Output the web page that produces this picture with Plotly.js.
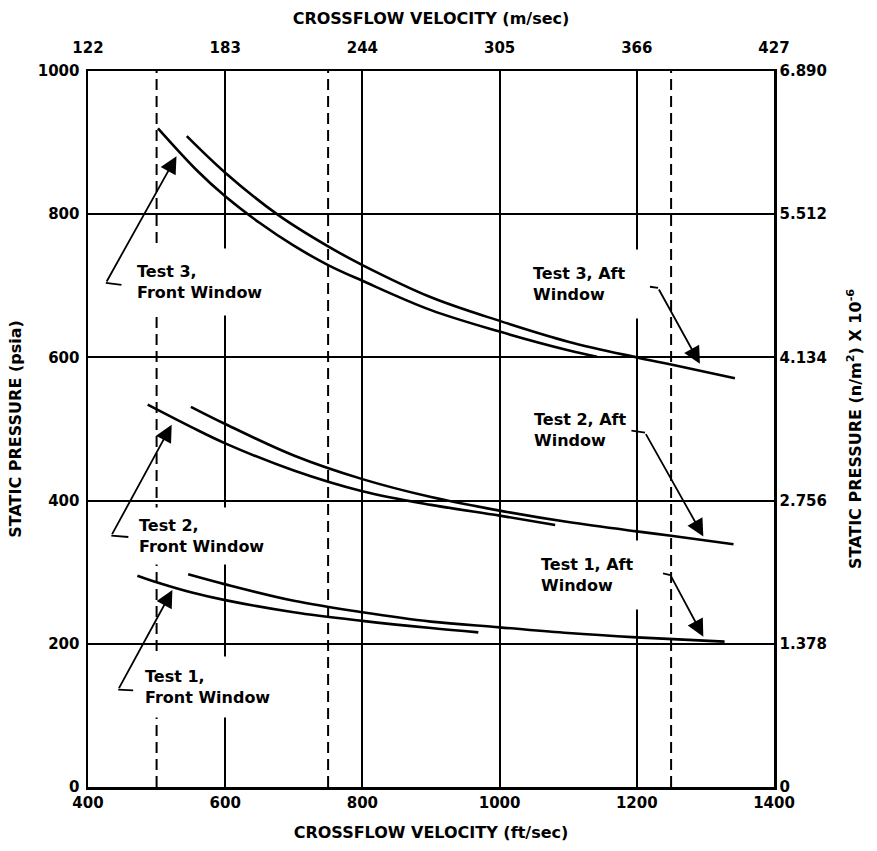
<!DOCTYPE html>
<html><head><meta charset="utf-8">
<script src="https://cdn.plot.ly/plotly-3.0.1.min.js"></script>
<style>body{margin:0;background:#fff}</style>
</head><body><div id="chart" style="width:877px;height:851px"></div>
<script>
// ---- data ----
const t3FrontX = [502, 560, 600, 650, 700, 750, 800, 900, 1000, 1100, 1142];
const t3FrontY = [920, 860, 825, 788, 756, 729, 707, 666, 636, 610, 601];
const t3AftX   = [544, 600, 677, 750, 800, 900, 1000, 1100, 1200, 1250, 1343];
const t3AftY   = [909, 858, 799, 755, 729, 684, 651, 622, 600, 590, 571];
const t2FrontX = [487, 550, 600, 700, 800, 900, 1000, 1081];
const t2FrontY = [534, 503, 480, 442, 413, 394, 379, 366];
const t2AftX   = [550, 600, 700, 800, 900, 1000, 1100, 1200, 1250, 1341];
const t2AftY   = [531, 507, 463, 430, 405, 386, 370, 357, 351, 339];
const t1FrontX = [472, 500, 550, 600, 700, 800, 900, 969];
const t1FrontY = [295, 286, 272, 261, 244, 232, 222, 216];
const t1AftX   = [546, 600, 700, 800, 900, 1000, 1100, 1200, 1328];
const t1AftY   = [297, 283, 260, 244, 231, 223, 215, 209, 203];

const ftTicks   = [400, 600, 800, 1000, 1200, 1400];
const ftLabels  = ['400', '600', '800', '1000', '1200', '1400'];
const msLabels  = ['122', '183', '244', '305', '366', '427'];
const psiaTicks = [0, 200, 400, 600, 800, 1000];
const psiaLabels= ['0', '200', '400', '600', '800', '1000'];
const paLabels  = ['0', '1.378', '2.756', '4.134', '5.512', '6.890'];
const refLinesX = [500, 750, 1250];

const labelText = ['Test 3,<br>Front Window', 'Test 2,<br>Front Window', 'Test 1,<br>Front Window',
                   'Test 3, Aft<br>Window', 'Test 2, Aft<br>Window', 'Test 1, Aft<br>Window'];
const labelX = [562, 565, 574, 1116, 1118, 1128];
const labelY = [705, 351, 140, 703, 499, 296];
const labelPad = [13, 8, 10, 14, 1, 14];
// arrows: head (x,y), tail (x,y), hook end (x,y)
const headX = [529, 522, 523, 1292, 1297, 1297];
const headY = [881, 506, 275, 591, 350, 210];
const tailX = [426, 434, 444, 1231, 1212, 1249];
const tailY = [704, 351, 136, 697, 495, 296];
const hookX = [451, 461, 468, 1217, 1190, 1236];
const hookY = [701, 349, 135, 699, 498, 299];

const FONT = 'DejaVu Sans, Arial, sans-serif';
const lineStyle = {color: 'black', width: 2.6, shape: 'spline', smoothing: 1};

const series = [
  [t3FrontX, t3FrontY], [t3AftX, t3AftY],
  [t2FrontX, t2FrontY], [t2AftX, t2AftY],
  [t1FrontX, t1FrontY], [t1AftX, t1AftY]
];
const traces = series.map(s => ({
  x: s[0], y: s[1], type: 'scatter', mode: 'lines', line: lineStyle,
  showlegend: false, hoverinfo: 'skip'
}));
traces.push({x: [], y: [], xaxis: 'x2', yaxis: 'y2', type: 'scatter', mode: 'lines', showlegend: false});

const tickFont = {family: FONT, size: 15, color: 'black', weight: 'bold'};
const titleFont = {family: FONT, size: 16, color: 'black', weight: 'bold'};

const annotations = [];
for (let i = 0; i < labelText.length; i++) {
  annotations.push({
    text: labelText[i], x: labelX[i], y: labelY[i], xref: 'x', yref: 'y',
    xanchor: 'center', yanchor: 'middle', align: 'left', showarrow: false,
    bgcolor: 'white', borderpad: labelPad[i],
    font: {family: FONT, size: 16, color: 'black', weight: 'bold'}
  });
}
for (let i = 0; i < headX.length; i++) {
  annotations.push({
    text: '', x: headX[i], y: headY[i], ax: tailX[i], ay: tailY[i],
    xref: 'x', yref: 'y', axref: 'x', ayref: 'y', showarrow: true,
    arrowhead: 2, arrowsize: 1.9, arrowwidth: 1.8, arrowcolor: 'black', standoff: 0, startstandoff: 0
  });
  annotations.push({
    text: '', x: tailX[i], y: tailY[i], ax: hookX[i], ay: hookY[i],
    xref: 'x', yref: 'y', axref: 'x', ayref: 'y', showarrow: true,
    arrowhead: 0, arrowwidth: 1.8, arrowcolor: 'black', standoff: 0, startstandoff: 0
  });
}

const shapes = refLinesX.map(v => ({
  type: 'line', xref: 'x', yref: 'y', x0: v, x1: v, y0: 0, y1: 1000,
  line: {color: 'black', width: 2, dash: '11px,6px'}, layer: 'between'
}));

const layout = {
  width: 877, height: 851,
  margin: {l: 88, r: 103, t: 71, b: 64},
  paper_bgcolor: 'white', plot_bgcolor: 'white',
  font: {family: FONT, color: 'black'},
  showlegend: false,
  xaxis: {
    range: [400, 1400], tickvals: ftTicks, ticktext: ftLabels, ticks: '',
    showgrid: true, gridcolor: 'black', gridwidth: 2, zeroline: false,
    showline: true, linecolor: 'black', linewidth: 2.5, mirror: true,
    tickfont: tickFont,
    title: {text: 'CROSSFLOW VELOCITY (ft/sec)', font: titleFont, standoff: 17}
  },
  xaxis2: {
    overlaying: 'x', side: 'top', range: [400, 1400], tickvals: ftTicks, ticktext: msLabels,
    ticks: '', showgrid: false, zeroline: false, showline: true, linecolor: 'black', linewidth: 2.5,
    tickfont: tickFont, ticklabelstandoff: 10,
    title: {text: 'CROSSFLOW VELOCITY (m/sec)', font: titleFont, standoff: 10}
  },
  yaxis: {
    range: [0, 1000], tickvals: psiaTicks, ticktext: psiaLabels, ticks: '',
    showgrid: true, gridcolor: 'black', gridwidth: 2, zeroline: false,
    showline: true, linecolor: 'black', linewidth: 2.5, mirror: true,
    tickfont: tickFont, ticklabelstandoff: 3,
    title: {text: 'STATIC PRESSURE (psia)', font: titleFont, standoff: 12}
  },
  yaxis2: {
    overlaying: 'y', side: 'right', range: [0, 1000], tickvals: psiaTicks, ticktext: paLabels,
    ticks: '', showgrid: false, zeroline: false, showline: true, linecolor: 'black', linewidth: 2.5,
    tickfont: tickFont,
    title: {text: 'STATIC PRESSURE (n/m<sup>2</sup>) X 10<sup>-6</sup>', font: titleFont, standoff: 24}
  },
  shapes: shapes,
  annotations: annotations
};

Plotly.newPlot('chart', traces, layout, {staticPlot: true, displayModeBar: false});
</script></body></html>
